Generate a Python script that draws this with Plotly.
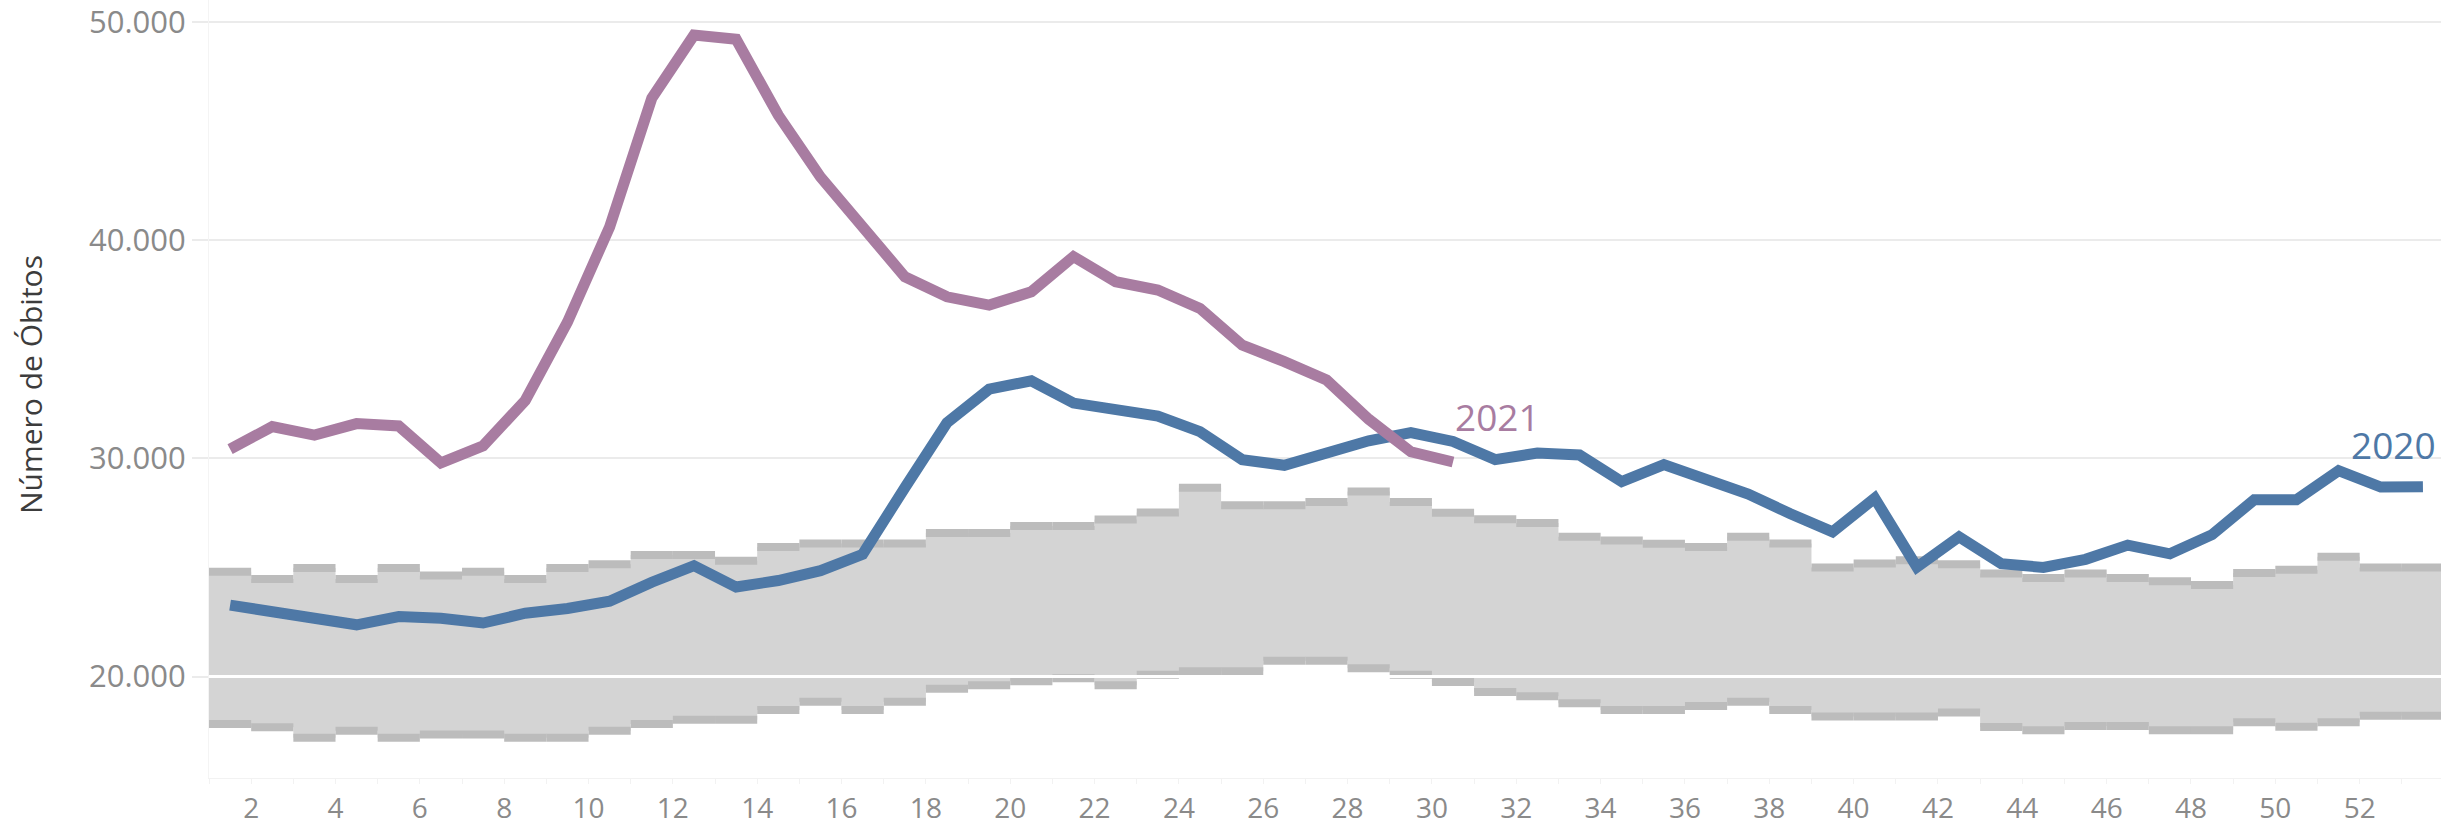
import plotly.graph_objects as go

# ---------------- data ----------------
weeks_2020 = list(range(1, 54))
deaths_2020 = [23270, 22970, 22570, 22370, 22750, 22670, 22450, 22900, 23120, 23450,
               24320, 25080, 24100, 24400, 24850, 25600, 28650, 31630, 33170, 33550,
               32530, 32170, 31930, 31220, 29940, 29680, 30240, 30800, 31180, 30770,
               29940, 30240, 30150, 28930, 29710, 29000, 28360, 27460, 26630, 28170,
               25010, 26400, 25170, 25000, 25370, 26020, 25620, 26500, 28100, 28100,
               29430, 28680, 28700]

weeks_2021 = list(range(1, 31))
deaths_2021 = [30420, 31450, 31060, 31590, 31480, 29790, 30570, 32650, 36240, 40600,
               46500, 49390, 49200, 45720, 42890, 40700, 38320, 37400, 37020, 37630,
               39240, 38090, 37710, 36870, 35190, 34430, 33590, 31790, 30300, 29830]

band_weeks = list(range(1, 54))
band_upper = [24805, 24474, 24970, 24474, 24970, 24625, 24805, 24474, 24970, 25150,
              25570, 25570, 25300, 25930, 26100, 26100, 26100, 26580, 26580, 26900,
              26900, 27200, 27520, 28650, 27850, 27850, 28000, 28480, 28000, 27510,
              27210, 27030, 26400, 26230, 26080, 25930, 26400, 26100, 25000, 25180,
              25330, 25150, 24720, 24520, 24720, 24520, 24360, 24190, 24740, 24890,
              25490, 24990, 24990]
band_lower = [17820, 17670, 17190, 17520, 17190, 17340, 17340, 17190, 17190, 17520,
              17820, 18020, 18020, 18470, 18840, 18470, 18840, 19440, 19600, 19780,
              19920, 19600, 20080, 20240, 20240, 20720, 20720, 20380, 20080, 19750,
              19290, 19100, 18770, 18470, 18470, 18650, 18840, 18470, 18170, 18170,
              18170, 18350, 17690, 17540, 17730, 17730, 17540, 17540, 17900, 17700,
              17900, 18200, 18200]

x_ticks = list(range(2, 53, 2))
y_ticks = [20000, 30000, 40000, 50000]

# ---------------- styling ----------------
BLUE = "#4e78a6"
PURPLE = "#a87ca1"
FILL = "#d4d4d4"
EDGE = "#bcbcbc"
GRID = "#ebebeb"
TICKC = "#8a8a8a"

W, H = 2441, 826
ML, MB = 209, 42
plot_w = W - ML
plot_h = H - MB

fig = go.Figure()

# band fill: step polygon, each week spans [w, w+1]
fx, fy = [], []
for w, u in zip(band_weeks, band_upper):
    fx += [w, w + 1]
    fy += [u, u]
for w, l in zip(reversed(band_weeks), reversed(band_lower)):
    fx += [w + 1, w]
    fy += [l, l]
fig.add_trace(go.Scatter(x=fx, y=fy, fill="toself", fillcolor=FILL, mode="none",
                         hoverinfo="skip", showlegend=False))

# band edges: horizontal strips per week
for series in (band_upper, band_lower):
    ex, ey = [], []
    for w, v in zip(band_weeks, series):
        ex += [w, w + 1, None]
        ey += [v, v, None]
    fig.add_trace(go.Scatter(x=ex, y=ey, mode="lines", line=dict(color=EDGE, width=8),
                             hoverinfo="skip", showlegend=False))

# lines plotted at the middle of each week bin
x2020 = [w + 0.5 for w in weeks_2020]
x2021 = [w + 0.5 for w in weeks_2021]
fig.add_trace(go.Scatter(x=x2020, y=deaths_2020, mode="lines",
                         line=dict(color=BLUE, width=11), name="2020", showlegend=False))
fig.add_trace(go.Scatter(x=x2021, y=deaths_2021, mode="lines",
                         line=dict(color=PURPLE, width=11), name="2021", showlegend=False))

# white 20.000 gridline drawn over the band
fig.add_shape(type="line", xref="paper", x0=0, x1=1, yref="y", y0=20000, y1=20000,
              line=dict(color="white", width=3), layer="above")

# series labels
fig.add_annotation(x=x2021[-1] + 1.05, y=31900, text="2021", showarrow=False,
                   font=dict(family="Open Sans", size=37, color=PURPLE))
fig.add_annotation(xref="paper", x=1, xanchor="right", xshift=-3, y=30630, text="2020",
                   showarrow=False, font=dict(family="Open Sans", size=37, color=BLUE))

# y-axis title
fig.add_annotation(xref="paper", yref="paper", x=(30 - ML) / plot_w, y=1 - 388 / plot_h,
                   text="Número de Óbitos", textangle=-90, showarrow=False,
                   xanchor="center", yanchor="middle",
                   font=dict(family="Open Sans", size=30, color="#3c3c3c"))

fig.update_layout(
    width=W, height=H,
    margin=dict(l=ML, r=0, t=0, b=MB),
    paper_bgcolor="white", plot_bgcolor="white",
    separators=",.",
    showlegend=False,
)
fig.update_xaxes(
    range=[1, 1 + plot_w / 42.17], tickvals=x_ticks, ticktext=[str(t) for t in x_ticks],
    showgrid=False, zeroline=False, showline=True, linecolor="#f2f2f2", linewidth=1,
    ticks="outside", ticklen=5, tickcolor="#f2f2f2", tickwidth=1,
    minor=dict(dtick=1, ticks="outside", ticklen=5, tickcolor="#f2f2f2"),
    tickfont=dict(family="Open Sans", size=28, color=TICKC),
)
fig.update_yaxes(
    range=[15350, 51000], tickvals=y_ticks, tickformat=",d",
    showgrid=True, gridcolor=GRID, gridwidth=2, zeroline=False,
    showline=True, linecolor="#f4f4f4", linewidth=1,
    ticks="outside", ticklen=16, tickcolor=GRID, tickwidth=2,
    ticklabeloverflow="allow",
    tickfont=dict(family="Open Sans", size=31, color=TICKC),
)

fig.write_html("out.html",
               config={"displayModeBar": False},
               post_script="document.body.style.margin='0';document.body.style.padding='0';"
                           "document.body.style.overflow='hidden';")
